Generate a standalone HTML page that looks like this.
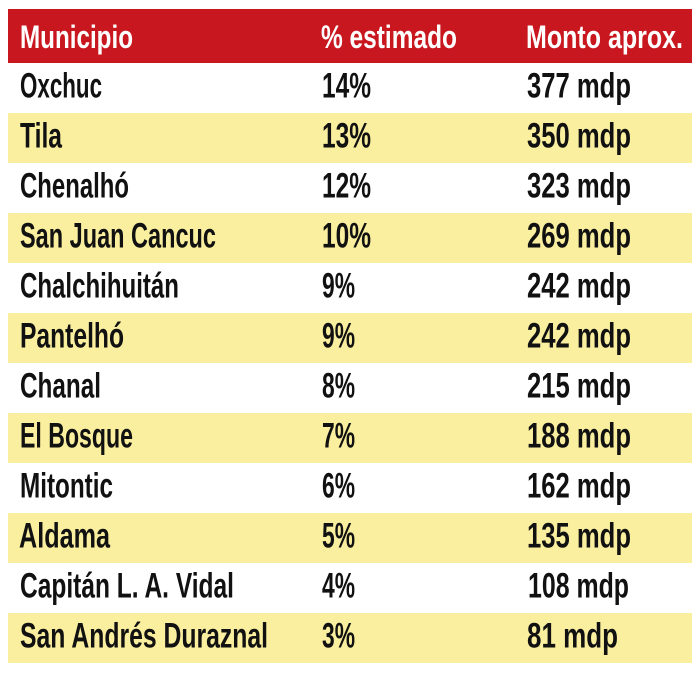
<!DOCTYPE html>
<html>
<head>
<meta charset="utf-8">
<style>
html,body{margin:0;padding:0;background:#fff;}
svg{display:block;}
text{font-family:"Liberation Sans Narrow","Liberation Sans",sans-serif;font-weight:bold;}
.d{font-size:35.5px;fill:#111;}
.h{font-size:32px;fill:#fff;}
</style>
</head>
<body>
<svg width="700" height="675" viewBox="0 0 700 675" xmlns="http://www.w3.org/2000/svg">
<rect x="0" y="0" width="700" height="675" fill="#fff"/>
<rect x="8" y="9" width="684" height="54" fill="#c8171e"/>
<g fill="#faef9f">
<rect x="8" y="113" width="684" height="50"/>
<rect x="8" y="213" width="684" height="50"/>
<rect x="8" y="313" width="684" height="50"/>
<rect x="8" y="413" width="684" height="50"/>
<rect x="8" y="513" width="684" height="50"/>
<rect x="8" y="613" width="684" height="50"/>
</g>
<text class="h" x="20" y="48" textLength="113" lengthAdjust="spacingAndGlyphs">Municipio</text>
<text class="h" x="321" y="48" textLength="136" lengthAdjust="spacingAndGlyphs">% estimado</text>
<text class="h" x="526" y="48" textLength="157" lengthAdjust="spacingAndGlyphs">Monto aprox.</text>

<text class="d" x="20" y="97.5" textLength="82" lengthAdjust="spacingAndGlyphs">Oxchuc</text>
<text class="d" x="322" y="97.5" textLength="49" lengthAdjust="spacingAndGlyphs">14%</text>
<text class="d" x="527" y="97.5" textLength="104" lengthAdjust="spacingAndGlyphs">377 mdp</text>

<text class="d" x="20" y="147.5" textLength="42" lengthAdjust="spacingAndGlyphs">Tila</text>
<text class="d" x="322" y="147.5" textLength="49" lengthAdjust="spacingAndGlyphs">13%</text>
<text class="d" x="527" y="147.5" textLength="104" lengthAdjust="spacingAndGlyphs">350 mdp</text>

<text class="d" x="20" y="197.5" textLength="109" lengthAdjust="spacingAndGlyphs">Chenalhó</text>
<text class="d" x="322" y="197.5" textLength="49" lengthAdjust="spacingAndGlyphs">12%</text>
<text class="d" x="527" y="197.5" textLength="104" lengthAdjust="spacingAndGlyphs">323 mdp</text>

<text class="d" x="20" y="247.5" textLength="196" lengthAdjust="spacingAndGlyphs">San Juan Cancuc</text>
<text class="d" x="322" y="247.5" textLength="49" lengthAdjust="spacingAndGlyphs">10%</text>
<text class="d" x="527" y="247.5" textLength="104" lengthAdjust="spacingAndGlyphs">269 mdp</text>

<text class="d" x="20" y="297.5" textLength="159" lengthAdjust="spacingAndGlyphs">Chalchihuitán</text>
<text class="d" x="322" y="297.5" textLength="33" lengthAdjust="spacingAndGlyphs">9%</text>
<text class="d" x="527" y="297.5" textLength="104" lengthAdjust="spacingAndGlyphs">242 mdp</text>

<text class="d" x="20" y="347.5" textLength="104" lengthAdjust="spacingAndGlyphs">Pantelhó</text>
<text class="d" x="322" y="347.5" textLength="33" lengthAdjust="spacingAndGlyphs">9%</text>
<text class="d" x="527" y="347.5" textLength="104" lengthAdjust="spacingAndGlyphs">242 mdp</text>

<text class="d" x="20" y="397.5" textLength="81" lengthAdjust="spacingAndGlyphs">Chanal</text>
<text class="d" x="322" y="397.5" textLength="33" lengthAdjust="spacingAndGlyphs">8%</text>
<text class="d" x="527" y="397.5" textLength="104" lengthAdjust="spacingAndGlyphs">215 mdp</text>

<text class="d" x="20" y="447.5" textLength="113" lengthAdjust="spacingAndGlyphs">El Bosque</text>
<text class="d" x="322" y="447.5" textLength="33" lengthAdjust="spacingAndGlyphs">7%</text>
<text class="d" x="527" y="447.5" textLength="104" lengthAdjust="spacingAndGlyphs">188 mdp</text>

<text class="d" x="20" y="497.5" textLength="93" lengthAdjust="spacingAndGlyphs">Mitontic</text>
<text class="d" x="322" y="497.5" textLength="33" lengthAdjust="spacingAndGlyphs">6%</text>
<text class="d" x="527" y="497.5" textLength="104" lengthAdjust="spacingAndGlyphs">162 mdp</text>

<text class="d" x="19" y="547.5" textLength="91" lengthAdjust="spacingAndGlyphs">Aldama</text>
<text class="d" x="322" y="547.5" textLength="33" lengthAdjust="spacingAndGlyphs">5%</text>
<text class="d" x="527" y="547.5" textLength="104" lengthAdjust="spacingAndGlyphs">135 mdp</text>

<text class="d" x="20" y="597.5" textLength="214" lengthAdjust="spacingAndGlyphs">Capitán L. A. Vidal</text>
<text class="d" x="322" y="597.5" textLength="33" lengthAdjust="spacingAndGlyphs">4%</text>
<text class="d" x="528" y="597.5" textLength="101" lengthAdjust="spacingAndGlyphs">108 mdp</text>

<text class="d" x="20" y="647.5" textLength="248" lengthAdjust="spacingAndGlyphs">San Andrés Duraznal</text>
<text class="d" x="322" y="647.5" textLength="33" lengthAdjust="spacingAndGlyphs">3%</text>
<text class="d" x="527" y="647.5" textLength="91" lengthAdjust="spacingAndGlyphs">81 mdp</text>
</svg>
</body>
</html>
